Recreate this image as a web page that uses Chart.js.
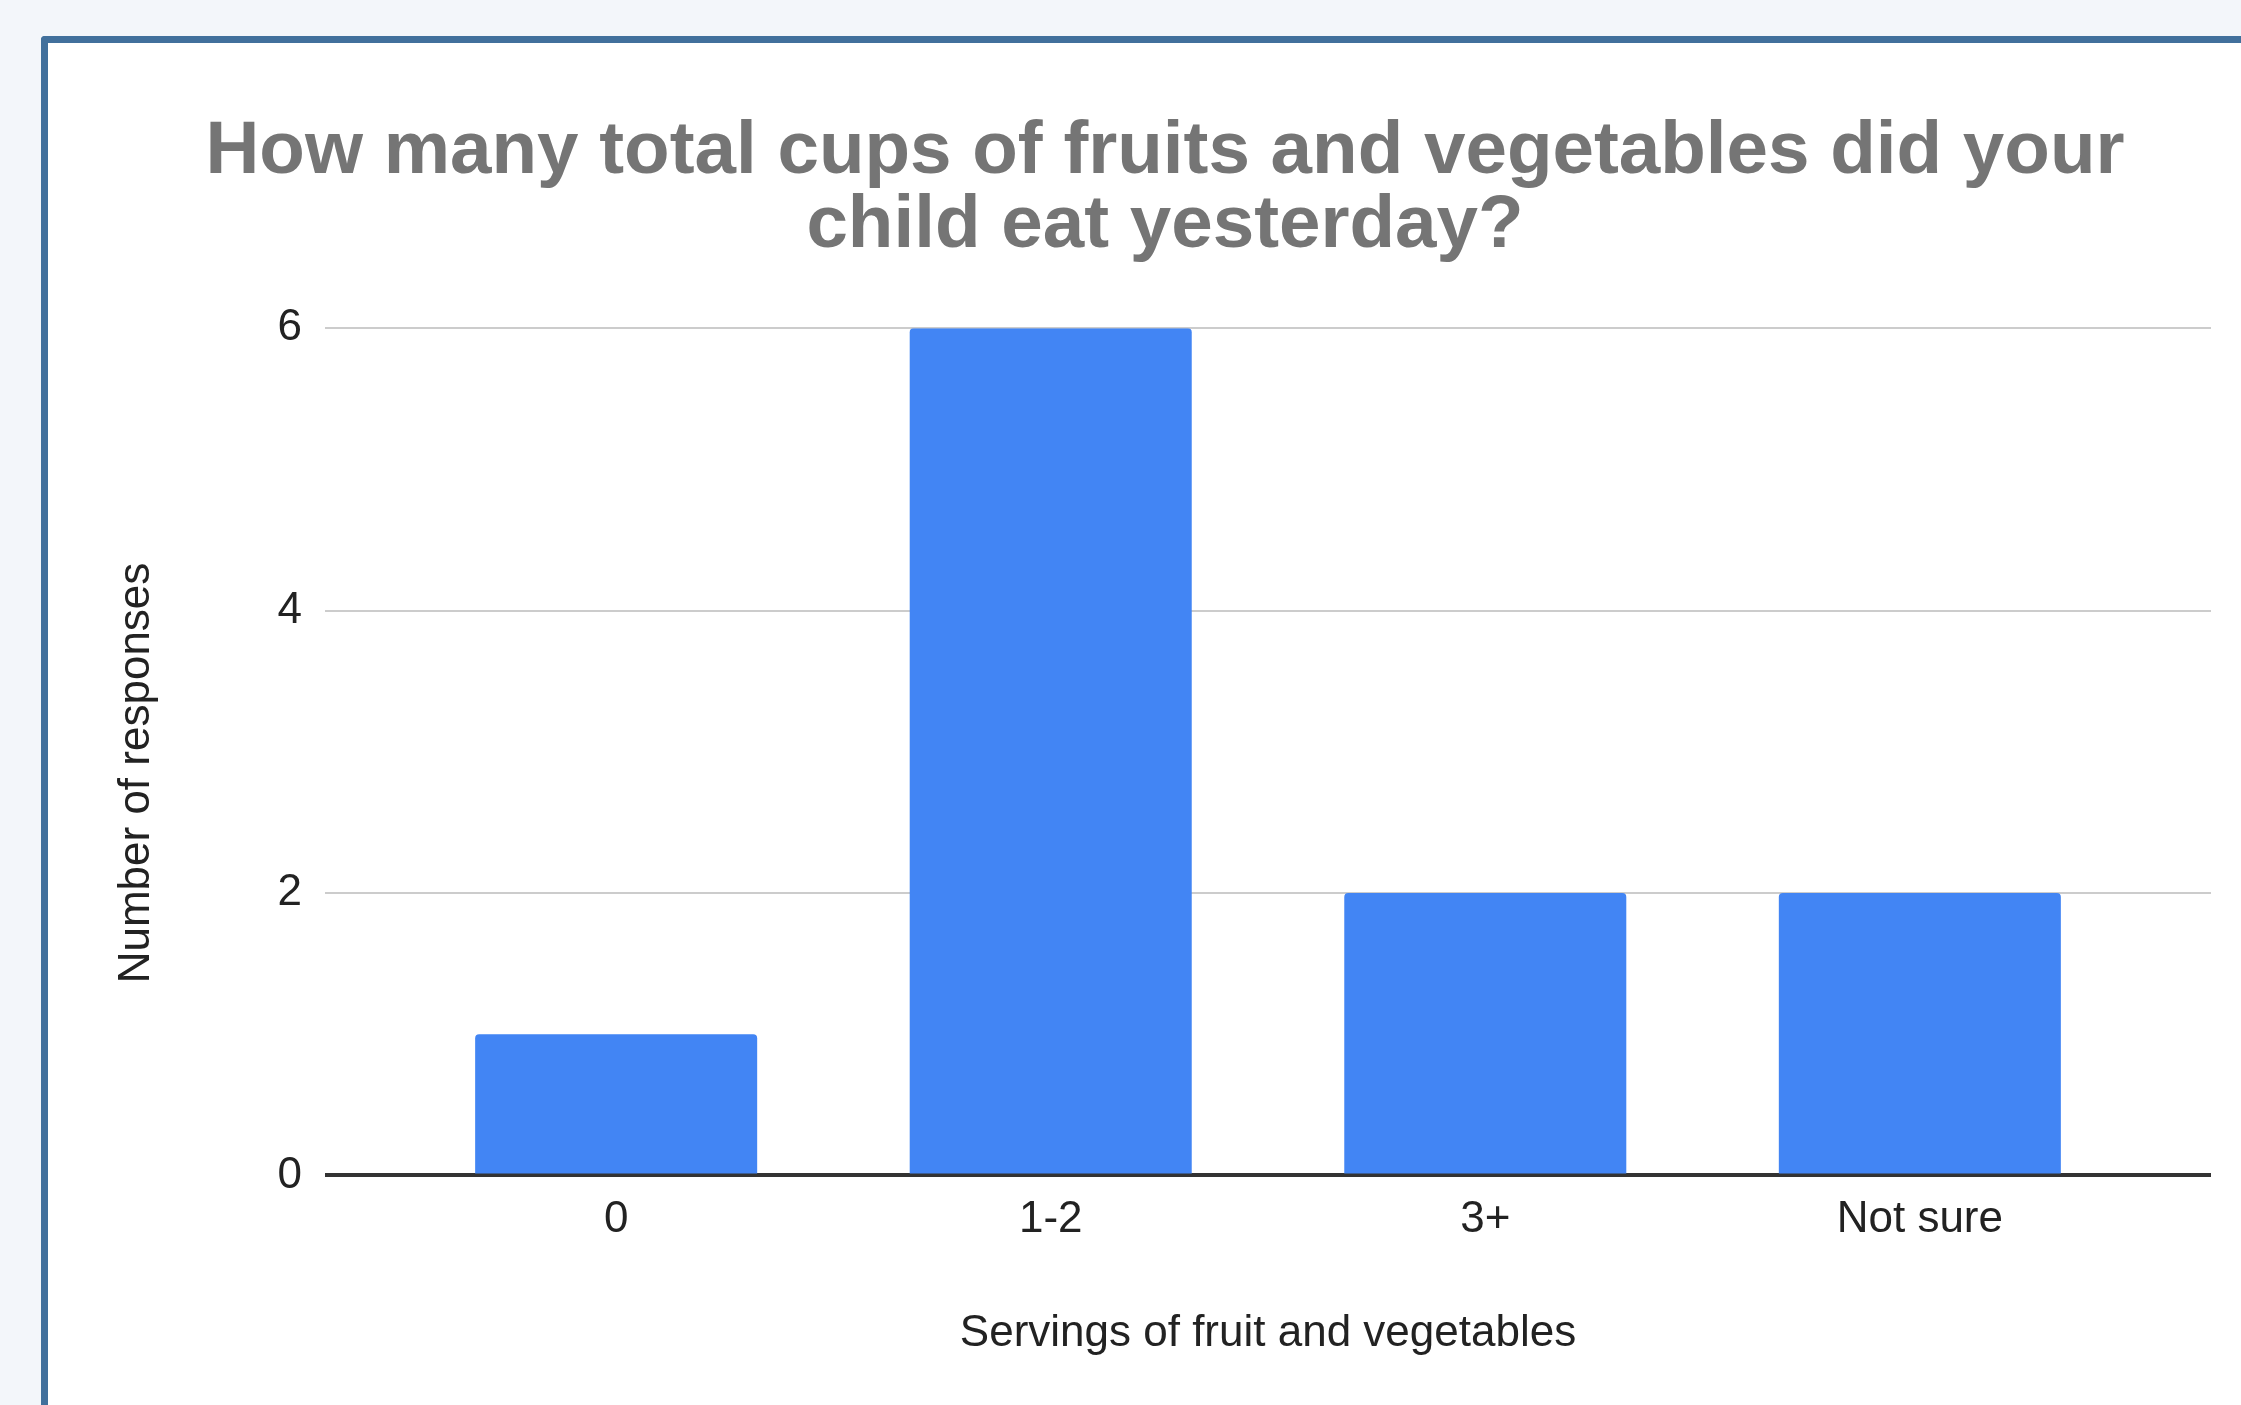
<!DOCTYPE html>
<html>
<head>
<meta charset="utf-8">
<script src="https://cdn.jsdelivr.net/npm/chart.js@4.4.1/dist/chart.umd.min.js"></script>
<style>
  html, body { margin: 0; padding: 0; width: 2241px; height: 1405px; overflow: hidden; background: #f3f6fa; }
  .panel {
    position: absolute; left: 41px; top: 36px; width: 2300px; height: 1500px;
    background: #fff; border-top: 7px solid #41709c; border-left: 7px solid #41709c;
    border-top-left-radius: 4px;
  }
  #chart { position: absolute; left: 48px; top: 43px; }
</style>
</head>
<body>
<div class="panel"></div>
<canvas id="chart" width="2234" height="1362"></canvas>
<script>
  const categories = ['0', '1-2', '3+', 'Not sure'];
  const responses = [1, 6, 2, 2];
  const yTicks = [0, 2, 4, 6];

  const titleText = ['How many total cups of fruits and vegetables did your', 'child eat yesterday?'];
  const yTitle = 'Number of responses';
  const font = 'Liberation Sans, Arial, sans-serif';

  const points = categories.map((c, i) => ({ x: i, y: responses[i] }));

  // google puts the y title a bit below the middle of the plot, so draw it by hand
  const yTitlePlugin = {
    id: 'yTitle',
    afterDraw(chart) {
      const ctx = chart.ctx;
      ctx.save();
      ctx.translate(88.5, 730);
      ctx.rotate(-Math.PI / 2);
      ctx.fillStyle = '#222';
      ctx.font = '44px ' + font;
      ctx.textAlign = 'center';
      ctx.textBaseline = 'middle';
      ctx.fillText(yTitle, 0, 0);
      ctx.restore();
    }
  };

  new Chart(document.getElementById('chart'), {
    type: 'bar',
    data: {
      datasets: [{
        data: points,
        backgroundColor: '#4285f4',
        borderRadius: 4,
        categoryPercentage: 1,
        barPercentage: 0.649
      }]
    },
    options: {
      responsive: false,
      animation: false,
      layout: { padding: { left: 0, right: 0, top: 0, bottom: 45 } },
      plugins: {
        legend: { display: false },
        tooltip: { enabled: false },
        title: {
          display: true,
          text: titleText,
          color: '#757575',
          font: { family: font, size: 74.6, weight: 'bold', lineHeight: 1.0 },
          padding: { top: 72, bottom: 64 }
        }
      },
      scales: {
        x: {
          type: 'linear',
          offset: false,
          min: -0.67,
          max: 3.67,
          afterBuildTicks: s => { s.ticks = categories.map((c, i) => ({ value: i })); },
          grid: { display: false, drawTicks: false },
          border: { display: false },
          ticks: {
            autoSkip: false,
            padding: 18,
            color: '#222',
            font: { family: font, size: 44 },
            callback: v => categories[v]
          },
          title: {
            display: true,
            text: 'Servings of fruit and vegetables',
            color: '#222',
            font: { family: font, size: 44 },
            padding: { top: 43, bottom: 0 }
          }
        },
        y: {
          min: 0,
          max: 6,
          afterBuildTicks: s => { s.ticks = yTicks.map(v => ({ value: v })); },
          afterFit: s => { s.width = 277; },
          grid: {
            drawTicks: false,
            color: c => c.tick && c.tick.value === 0 ? '#333' : '#cccccc',
            lineWidth: c => c.tick && c.tick.value === 0 ? 4 : 2
          },
          border: { display: false },
          ticks: {
            padding: 23,
            color: '#222',
            font: { family: font, size: 44 }
          }
        },
        // empty right axis, only keeps the plot clear of the right edge
        yRight: {
          position: 'right',
          afterFit: s => { s.width = 71; },
          grid: { display: false, drawTicks: false },
          border: { display: false },
          ticks: { display: false }
        }
      }
    },
    plugins: [yTitlePlugin]
  });
</script>
</body>
</html>
